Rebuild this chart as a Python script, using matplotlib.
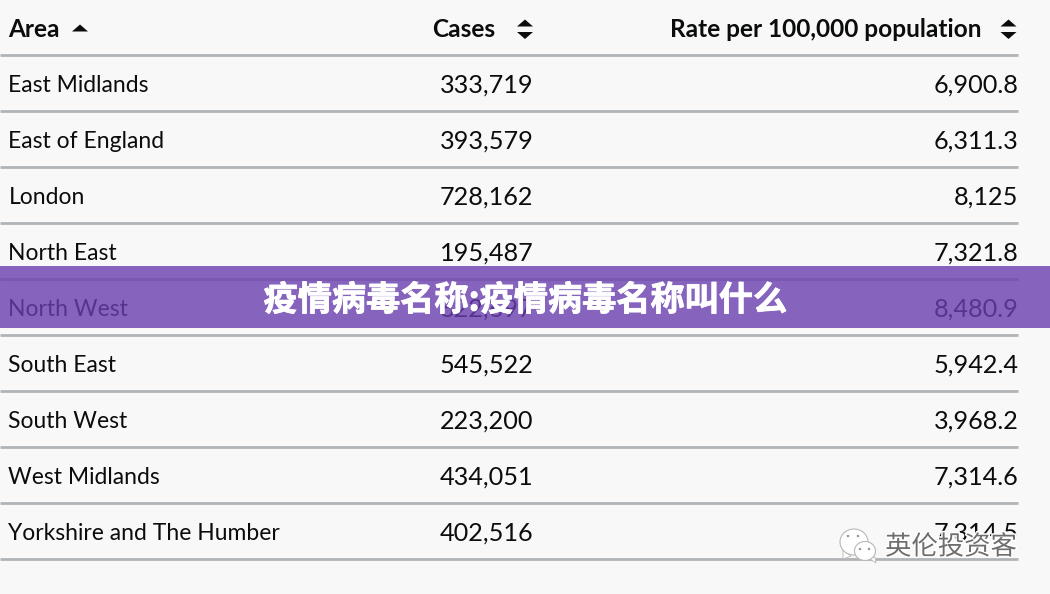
import matplotlib
matplotlib.use("Agg")
import matplotlib.pyplot as plt
import matplotlib.patheffects as pe
from matplotlib.patches import Rectangle, Ellipse, Polygon

areas = ["East Midlands", "East of England", "London", "North East", "North West",
         "South East", "South West", "West Midlands", "Yorkshire and The Humber"]
cases = ["333,719", "393,579", "728,162", "195,487", "822,697",
         "545,522", "223,200", "434,051", "402,516"]
rates = ["6,900.8", "6,311.3", "8,125", "7,321.8", "8,480.9",
         "5,942.4", "3,968.2", "7,314.6", "7,314.5"]
headers = ["Area", "Cases", "Rate per 100,000 population"]
banner = "疫情病毒名称:疫情病毒名称叫什么"
mark = "英伦投资客"

W, H = 1050, 594
FONT = ["Lato", "DejaVu Sans"]
CJK = ["Noto Sans CJK SC", "DejaVu Sans"]
plt.rcParams["font.family"] = FONT

fig = plt.figure(figsize=(W/100, H/100), dpi=100, facecolor="#f8f8f8")
ax = fig.add_axes([0, 0, 1, 1])
ax.set_xlim(0, W); ax.set_ylim(H, 0); ax.axis("off")

fs = 16.5
fs_head = 17.6
fs_num = 18.2
ink = "#0b0c0c"
rule = "#b1b4b6"
ax.text(8.5, 27.5, headers[0], fontsize=fs_head, fontweight="bold", color=ink, va="center_baseline")
ax.text(495.5, 27.5, headers[1], fontsize=fs_head, fontweight="bold", color=ink, ha="right", va="center_baseline")
ax.text(981, 27.5, headers[2], fontsize=fs_head, fontweight="bold", color=ink, ha="right", va="center_baseline")

def up(cx, base, color=ink, w=8, h=7):
    ax.add_patch(Polygon([(cx-w, base), (cx+w, base), (cx, base-h)], color=color, lw=0))
def down(cx, top, color=ink, w=8, h=7):
    ax.add_patch(Polygon([(cx-w, top), (cx+w, top), (cx, top+h)], color=color, lw=0))

up(80, 31.5)
for cx in (525, 1008.5):
    up(cx, 26.5); down(cx, 32)

ax.plot([0, 1018], [55, 55], color=rule, lw=2, solid_capstyle="butt")
for i, (a, c, r) in enumerate(zip(areas, cases, rates)):
    yc = 84 + 56*i
    ax.text(8.5, yc, a, fontsize=fs, color=ink, va="center_baseline")
    ax.text(533.5, yc - 0.7, c, fontsize=fs_num, color=ink, ha="right", va="center_baseline")
    ax.text(1018.5, yc - 0.7, r, fontsize=fs_num, color=ink, ha="right", va="center_baseline")
    ax.plot([0, 1018], [yc+27, yc+27], color=rule, lw=2, solid_capstyle="butt")

ax.add_patch(Rectangle((0, 266), W, 62, facecolor="#6a3fb0", alpha=0.8, edgecolor="none", zorder=5))
ax.text(525, 300, banner, fontsize=24.6, fontweight="bold", color="white", family=CJK,
        ha="center", va="center", zorder=6,
        path_effects=[pe.withStroke(linewidth=0.6, foreground="white")])

wm_fx = [pe.withStroke(linewidth=2.2, foreground="white")]
ax.text(951, 547, mark, fontsize=19, color="#6e6e6e", family=CJK, ha="center", va="center",
        zorder=7, path_effects=wm_fx)
ax.add_patch(Polygon([(843, 550), (851, 556), (843, 559)], facecolor="white", edgecolor="#b8b8b8", lw=0.6, zorder=6.9))
ax.add_patch(Polygon([(867, 557), (875, 557), (876, 563)], facecolor="white", edgecolor="#b8b8b8", lw=0.6, zorder=6.9))
for cx, cy, w, h in ((854, 542, 28, 26), (865, 551, 21, 19)):
    ax.add_patch(Ellipse((cx, cy), w, h, facecolor="white", edgecolor="#b8b8b8", lw=0.8, zorder=7))
for x, y in ((848, 536), (858, 536), (860, 549), (869, 549)):
    ax.add_patch(Ellipse((x, y), 2.6, 2.6, facecolor="#9a9a9a", edgecolor="none", zorder=8))

fig.savefig("out.png", dpi=100, facecolor=fig.get_facecolor())
